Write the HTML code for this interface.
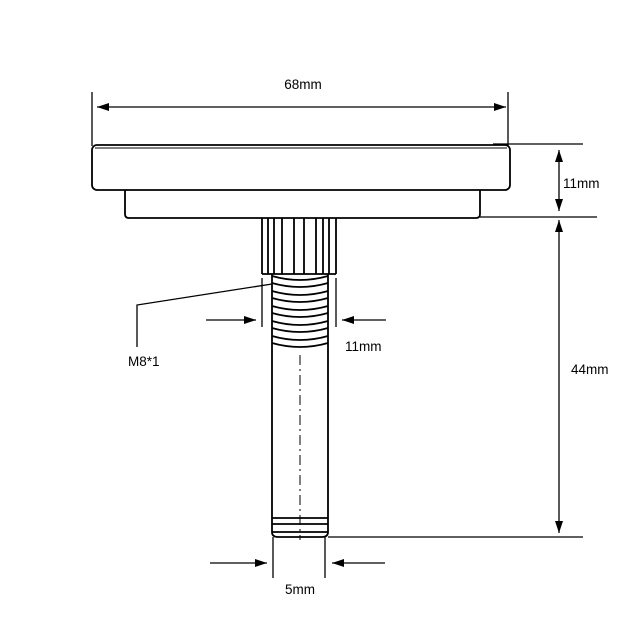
<!DOCTYPE html>
<html><head><style>html,body{margin:0;padding:0;background:#fff}svg{display:block}</style></head>
<body>
<svg width="640" height="640" viewBox="0 0 640 640" xmlns="http://www.w3.org/2000/svg" font-family="Liberation Sans, DejaVu Sans, sans-serif" font-size="13">
<defs>
<marker id="a" viewBox="0 0 12 8" refX="12" refY="4" markerWidth="12" markerHeight="8" orient="auto" markerUnits="userSpaceOnUse"><path d="M0,0 L12,4 L0,8 Z" fill="#000"/></marker>
</defs>
<g stroke="#000" fill="none" stroke-width="1.3">
<line x1="92" y1="92" x2="92" y2="146"/>
<line x1="508" y1="92" x2="508" y2="146"/>
<line x1="300" y1="107" x2="97" y2="107" marker-end="url(#a)"/>
<line x1="300" y1="107" x2="506" y2="107" marker-end="url(#a)"/>
<rect x="92" y="145" width="418" height="45" rx="5" stroke-width="1.8"/>
<line x1="95" y1="148" x2="507" y2="148" stroke-width="1"/>
<path d="M125,190 V214 Q125,218 129,218 H476 Q480,218 480,214 V190" stroke-width="1.8"/>
<g stroke-width="1.8">
<line x1="262" y1="218" x2="262" y2="274"/><line x1="268" y1="218" x2="268" y2="274"/>
<line x1="274" y1="218" x2="274" y2="274"/><line x1="282" y1="218" x2="282" y2="274"/>
<line x1="294" y1="218" x2="294" y2="274"/><line x1="304" y1="218" x2="304" y2="274"/>
<line x1="316" y1="218" x2="316" y2="274"/><line x1="323" y1="218" x2="323" y2="274"/>
<line x1="329" y1="218" x2="329" y2="274"/><line x1="336" y1="218" x2="336" y2="274"/>
<line x1="262" y1="274" x2="336" y2="274"/>
<path d="M272,274 V532 Q272,537 278,537 H322 Q328,537 328,532 V274"/>
<path d="M272,276 Q300,284 328,276"/>
<path d="M272,283 Q300,291 328,283"/>
<path d="M272,291 Q300,299 328,291"/>
<path d="M272,298 Q300,306 328,298"/>
<path d="M272,306 Q300,314 328,306"/>
<path d="M272,313 Q300,321 328,313"/>
<path d="M272,321 Q300,329 328,321"/>
<path d="M272,328 Q300,336 328,328"/>
<path d="M272,336 Q300,344 328,336"/>
<path d="M272,343 Q300,351 328,343"/>
<line x1="272" y1="518" x2="328" y2="518"/>
<line x1="272" y1="524" x2="328" y2="524"/>
<line x1="272" y1="532" x2="328" y2="532"/>
</g>
<line x1="300" y1="355" x2="300" y2="540" stroke-width="1" stroke-dasharray="10,4,2,4"/>
<line x1="262" y1="278" x2="262" y2="327"/>
<line x1="336" y1="278" x2="336" y2="327"/>
<line x1="206" y1="320" x2="256" y2="320" marker-end="url(#a)"/>
<line x1="386" y1="320" x2="342" y2="320" marker-end="url(#a)"/>
<polyline points="272,284 137,305 137,347"/>
<line x1="273" y1="537" x2="273" y2="578"/>
<line x1="325" y1="537" x2="325" y2="578"/>
<line x1="210" y1="563" x2="267" y2="563" marker-end="url(#a)"/>
<line x1="385" y1="563" x2="332" y2="563" marker-end="url(#a)"/>
<line x1="493" y1="144" x2="583" y2="144"/>
<line x1="480" y1="217" x2="597" y2="217"/>
<line x1="328" y1="537" x2="583" y2="537"/>
<line x1="559" y1="180" x2="559" y2="150" marker-end="url(#a)"/>
<line x1="559" y1="180" x2="559" y2="211" marker-end="url(#a)"/>
<line x1="559" y1="370" x2="559" y2="220" marker-end="url(#a)"/>
<line x1="559" y1="370" x2="559" y2="533" marker-end="url(#a)"/>
</g>
<g fill="#000" font-size="13.5">
<text x="303" y="89" text-anchor="middle">68mm</text>
<text x="563" y="188">11mm</text>
<text x="571" y="374">44mm</text>
<text x="345" y="351">11mm</text>
<text x="128" y="366">M8*1</text>
<text x="300" y="594" text-anchor="middle">5mm</text>
</g>
</svg>
</body></html>
